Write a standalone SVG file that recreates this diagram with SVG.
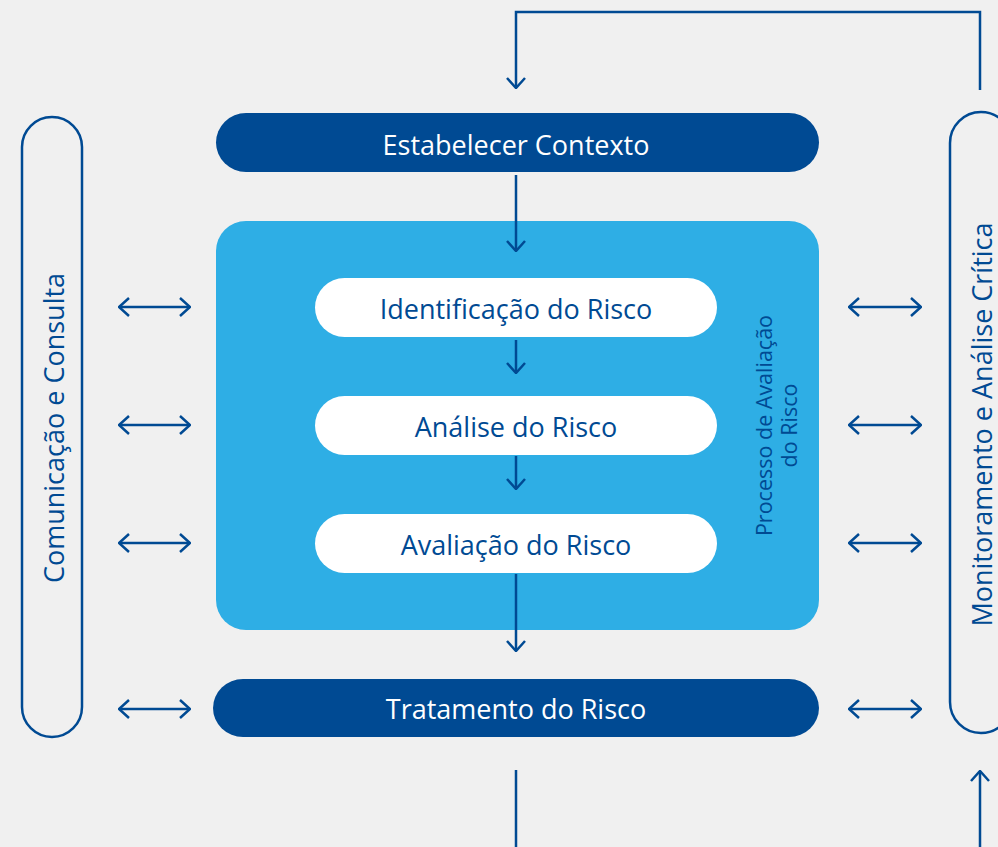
<svg xmlns="http://www.w3.org/2000/svg" width="998" height="847" viewBox="0 0 998 847">
<defs>
<style>
.bg{fill:#f0f0f0}
.dark{fill:#004a93}
.light{fill:#2eaee5}
.white{fill:#ffffff}
.outline{fill:none;stroke:#004a93;stroke-width:2.5}
.line{fill:none;stroke:#004a93;stroke-width:2.5}
.t{font-family:"Open Sans","Noto Sans","DejaVu Sans",sans-serif;font-size:27px;text-anchor:middle}
.tw{fill:#ffffff}
.tb{fill:#004a93}
.ts{font-family:"Open Sans","Noto Sans","DejaVu Sans",sans-serif;font-size:21.5px;text-anchor:middle;fill:#004a93}
</style>
<marker id="ah" viewBox="0 0 12 20" refX="11" refY="10" markerWidth="12" markerHeight="20" markerUnits="userSpaceOnUse" orient="auto-start-reverse">
<path d="M1,1 L11,10 L1,19" fill="none" stroke="#004a93" stroke-width="2.5"/>
</marker>
</defs>
<rect class="bg" x="0" y="0" width="998" height="847"/>

<g id="comunicacao">
<rect class="outline" x="22" y="117" width="60" height="620" rx="30" ry="30"/>
<text class="t tb" transform="translate(64,428) rotate(-90)">Comunicação e Consulta</text>
</g>

<g id="monitoramento">
<rect class="outline" x="950" y="112" width="62" height="621" rx="31" ry="31"/>
<text class="t tb" transform="translate(992,424.5) rotate(-90)">Monitoramento e Análise Crítica</text>
</g>

<g id="estabelecer">
<rect class="dark" x="216" y="113" width="603" height="59" rx="30" ry="30"/>
<text class="t tw" x="516" y="155">Estabelecer Contexto</text>
</g>

<g id="processo">
<rect class="light" x="216" y="221" width="603" height="409" rx="30" ry="30"/>
<text class="ts" transform="translate(772,425.5) rotate(-90)">Processo de Avaliação</text>
<text class="ts" transform="translate(797,425.5) rotate(-90)">do Risco</text>
</g>

<g id="identificacao">
<rect class="white" x="315" y="278" width="402" height="59" rx="29.5" ry="29.5"/>
<text class="t tb" x="516" y="319">Identificação do Risco</text>
</g>

<g id="analise">
<rect class="white" x="315" y="396" width="402" height="59" rx="29.5" ry="29.5"/>
<text class="t tb" x="516" y="437">Análise do Risco</text>
</g>

<g id="avaliacao">
<rect class="white" x="315" y="514" width="402" height="59" rx="29.5" ry="29.5"/>
<text class="t tb" x="516" y="555">Avaliação do Risco</text>
</g>

<g id="tratamento">
<rect class="dark" x="213" y="679" width="606" height="58" rx="30" ry="29"/>
<text class="t tw" x="516" y="719">Tratamento do Risco</text>
</g>

<g id="connectors">
<path class="line" d="M980,90 V12 H516 V88" marker-end="url(#ah)"/>
<path class="line" d="M516,175 V251" marker-end="url(#ah)"/>
<path class="line" d="M516,340 V373" marker-end="url(#ah)"/>
<path class="line" d="M516,456 V489" marker-end="url(#ah)"/>
<path class="line" d="M516,574 V651" marker-end="url(#ah)"/>
<path class="line" d="M516,770 V847"/>
<path class="line" d="M980,847 V771" marker-end="url(#ah)"/>

<path class="line" d="M119,307 H190" marker-start="url(#ah)" marker-end="url(#ah)"/>
<path class="line" d="M119,425 H190" marker-start="url(#ah)" marker-end="url(#ah)"/>
<path class="line" d="M119,543 H190" marker-start="url(#ah)" marker-end="url(#ah)"/>
<path class="line" d="M119,709 H190" marker-start="url(#ah)" marker-end="url(#ah)"/>

<path class="line" d="M849,307 H921" marker-start="url(#ah)" marker-end="url(#ah)"/>
<path class="line" d="M849,425 H921" marker-start="url(#ah)" marker-end="url(#ah)"/>
<path class="line" d="M849,543 H921" marker-start="url(#ah)" marker-end="url(#ah)"/>
<path class="line" d="M849,709 H921" marker-start="url(#ah)" marker-end="url(#ah)"/>
</g>
</svg>
